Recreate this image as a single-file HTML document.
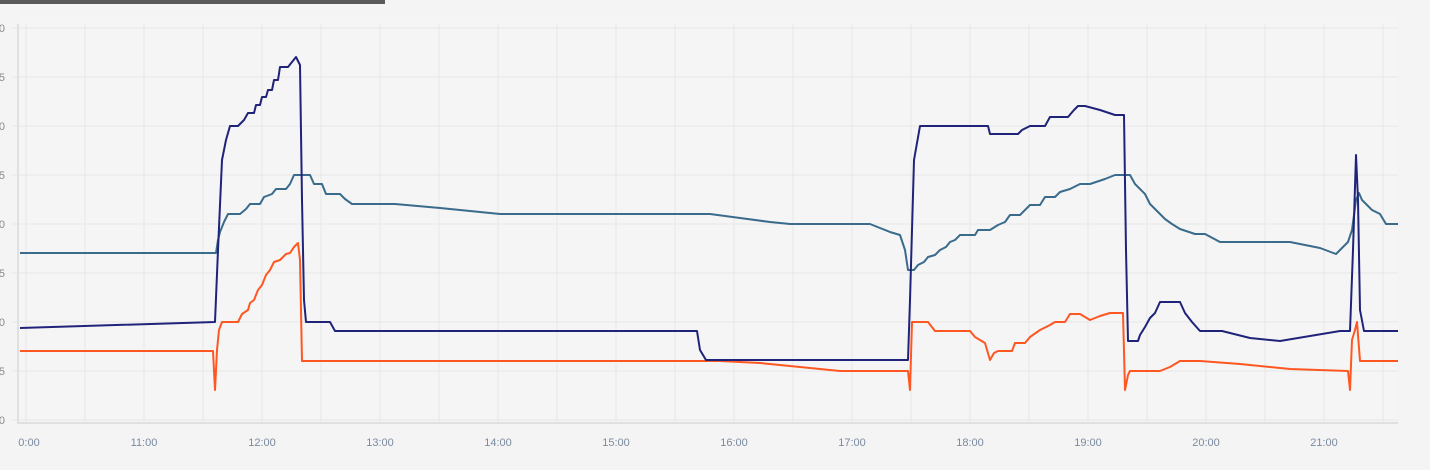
<!DOCTYPE html>
<html><head><style>
html,body{margin:0;padding:0;background:#f4f4f4;}
svg{display:block;font-family:"Liberation Sans",sans-serif;}
</style></head><body>
<svg width="1430" height="470" viewBox="0 0 1430 470">
<rect width="1430" height="470" fill="#f4f4f4"/>
<rect x="18" y="10" width="1380" height="413" fill="#f5f5f5"/>
<rect x="0" y="0" width="385" height="4" fill="#5a5a5a"/>
<g stroke="#e6e6e6" stroke-width="1">
<line x1="12" y1="28" x2="1398" y2="28"/><line x1="12" y1="77" x2="1398" y2="77"/>
<line x1="12" y1="126" x2="1398" y2="126"/><line x1="12" y1="175" x2="1398" y2="175"/>
<line x1="12" y1="224" x2="1398" y2="224"/><line x1="12" y1="273" x2="1398" y2="273"/>
<line x1="12" y1="322" x2="1398" y2="322"/><line x1="12" y1="371" x2="1398" y2="371"/>
<line x1="12" y1="420" x2="1398" y2="420"/>
<line x1="26" y1="24" x2="26" y2="423"/><line x1="85" y1="24" x2="85" y2="423"/>
<line x1="144" y1="24" x2="144" y2="423"/><line x1="203" y1="24" x2="203" y2="423"/>
<line x1="262" y1="24" x2="262" y2="423"/><line x1="321" y1="24" x2="321" y2="423"/>
<line x1="380" y1="24" x2="380" y2="423"/><line x1="439" y1="24" x2="439" y2="423"/>
<line x1="498" y1="24" x2="498" y2="423"/><line x1="557" y1="24" x2="557" y2="423"/>
<line x1="616" y1="24" x2="616" y2="423"/><line x1="675" y1="24" x2="675" y2="423"/>
<line x1="734" y1="24" x2="734" y2="423"/><line x1="793" y1="24" x2="793" y2="423"/>
<line x1="852" y1="24" x2="852" y2="423"/><line x1="911" y1="24" x2="911" y2="423"/>
<line x1="970" y1="24" x2="970" y2="423"/><line x1="1029" y1="24" x2="1029" y2="423"/>
<line x1="1088" y1="24" x2="1088" y2="423"/><line x1="1147" y1="24" x2="1147" y2="423"/>
<line x1="1206" y1="24" x2="1206" y2="423"/><line x1="1265" y1="24" x2="1265" y2="423"/>
<line x1="1324" y1="24" x2="1324" y2="423"/><line x1="1383" y1="24" x2="1383" y2="423"/>
</g>
<line x1="18" y1="24" x2="18" y2="424" stroke="#e0e0e0" stroke-width="2"/>
<line x1="17" y1="423" x2="1398" y2="423" stroke="#e0e0e0" stroke-width="2"/>
<g fill="#8a8a8a" font-size="11" text-anchor="end">
<text x="5" y="32">0</text><text x="5" y="81">5</text><text x="5" y="130">0</text>
<text x="5" y="179">5</text><text x="5" y="228">0</text><text x="5" y="277">5</text>
<text x="5" y="326">0</text><text x="5" y="375">5</text><text x="5" y="424">0</text>
</g>
<g fill="#7a8aa0" font-size="11" text-anchor="middle">
<text x="29" y="446">0:00</text><text x="144" y="446">11:00</text><text x="262" y="446">12:00</text>
<text x="380" y="446">13:00</text><text x="498" y="446">14:00</text><text x="616" y="446">15:00</text>
<text x="734" y="446">16:00</text><text x="852" y="446">17:00</text><text x="970" y="446">18:00</text>
<text x="1088" y="446">19:00</text><text x="1206" y="446">20:00</text><text x="1324" y="446">21:00</text>
</g>
<g fill="none" stroke-width="2" stroke-linejoin="round">
<polyline stroke="#3a6b8c" points="20,253 216,253 218,240 220,232 224,222 228,214 240,214 246,209 250,204 260,204 264,197 272,194 276,189 286,189 290,184 294,175 310,175 314,184 322,184 326,194 340,194 345,199 352,204 395,204 440,208 480,212 500,214 710,214 740,218 770,222 790,224 870,224 880,228 890,232 900,235 905,250 908,270 914,270 918,265 924,262 928,257 935,255 940,250 946,247 950,242 955,240 960,235 975,235 978,230 990,230 998,225 1005,222 1010,215 1020,215 1025,210 1030,205 1040,205 1045,197 1055,197 1060,192 1070,189 1080,184 1090,184 1105,179 1115,175 1130,175 1135,184 1140,189 1145,194 1150,204 1160,214 1165,219 1172,224 1180,229 1195,234 1205,234 1220,242 1290,242 1320,248 1336,254 1342,248 1348,242 1352,230 1356,200 1359,193 1362,200 1366,204 1372,210 1380,214 1386,224 1398,224"/>
<polyline stroke="#ff5722" points="20,351 213,351 215,390 217,350 219,330 222,322 238,322 242,314 248,310 250,303 254,300 258,290 262,285 266,275 270,270 274,262 280,260 286,254 290,253 294,247 298,243 300,260 302,361 690,361 720,361 760,363 800,367 840,371 908,371 910,390 912,322 928,322 935,331 970,331 975,337 985,343 990,360 994,353 998,351 1012,351 1015,343 1025,343 1030,337 1040,330 1050,325 1055,322 1065,322 1070,314 1080,314 1090,320 1100,316 1110,313 1123,313 1125,390 1128,375 1130,371 1160,371 1170,367 1180,361 1200,361 1240,364 1290,369 1348,371 1350,390 1352,340 1355,330 1357,322 1360,361 1398,361"/>
<polyline stroke="#1f237a" points="20,328 215,322 218,250 222,160 226,140 230,126 238,126 244,120 248,113 254,113 256,105 260,105 262,97 266,97 268,90 272,90 274,80 278,80 280,67 288,67 292,62 296,57 300,65 302,200 304,300 306,322 330,322 335,331 697,331 700,350 706,360 908,360 910,300 914,160 920,126 988,126 990,134 1018,134 1022,130 1030,126 1045,126 1050,117 1068,117 1074,110 1078,106 1085,106 1100,110 1115,115 1124,115 1126,250 1128,341 1138,341 1140,335 1145,327 1150,318 1155,313 1160,302 1180,302 1185,313 1192,322 1200,331 1222,331 1250,338 1280,341 1310,336 1340,331 1350,331 1353,250 1356,155 1358,200 1360,310 1364,331 1398,331"/>
</g>
</svg>
</body></html>
